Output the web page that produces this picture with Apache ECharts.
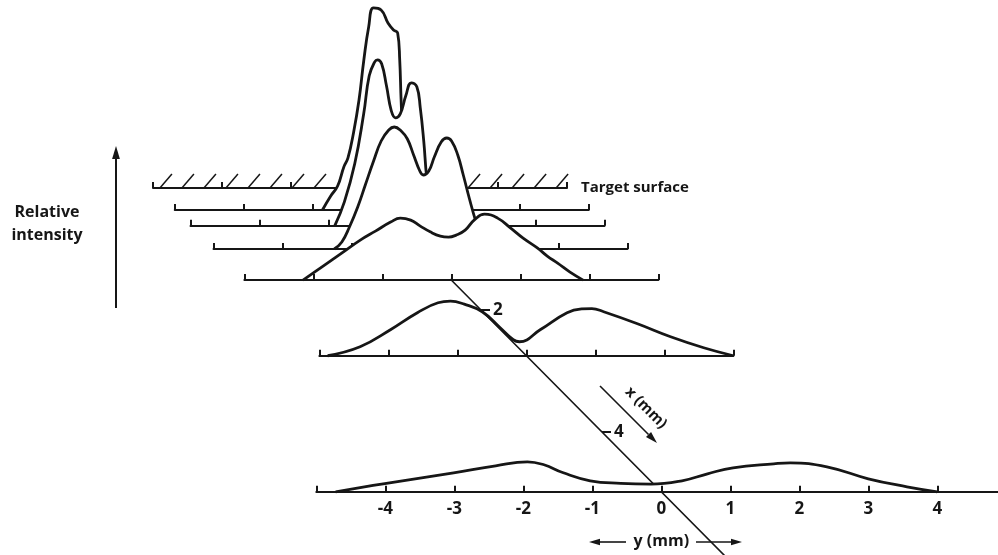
<!DOCTYPE html>
<html>
<head>
<meta charset="utf-8">
<title>Relative intensity profiles</title>
<script src="https://cdn.jsdelivr.net/npm/echarts/dist/echarts.min.js"></script>
<style>
  html, body { margin: 0; padding: 0; background: #fff; }
  #chart { width: 998px; height: 555px; }
</style>
</head>
<body>
<div id="chart"></div>
<script>
// tick labels: y (mm) on the front axis, x (mm) on the oblique axis
var y_ticks = [-4, -3, -2, -1, 0, 1, 2, 3, 4];
var x_ticks = [2, 4];

// depth x (mm) of each profile under the target surface, back to front
var depth_list = [0.36, 0.62, 1.0, 1.51, 2.75, 4.98];
// lateral extent y (mm) of each baseline
var range_list = [[-3, 3], [-3, 3], [-3, 3], [-3, 3], [-3, 3], [-5, 5]];

// [y (mm), relative intensity]
var profile_1 = [[-0.86, 0], [-0.74, 7], [-0.64, 12], [-0.55, 21.5], [-0.49, 26], [-0.41, 38.5],
    [-0.33, 55], [-0.26, 75], [-0.19, 91.5], [-0.12, 101], [-0.01, 100], [0.09, 93.5],
    [0.17, 90], [0.23, 88.5], [0.26, 75], [0.28, 55], [0.32, 25], [0.38, 0]];
var profile_2 = [[-0.91, 0], [-0.77, 12], [-0.62, 31], [-0.49, 56], [-0.41, 75], [-0.33, 82],
    [-0.29, 83], [-0.23, 81], [-0.16, 70], [-0.09, 57.5], [-0.03, 54], [0.04, 56], [0.12, 65],
    [0.2, 71.5], [0.28, 69.5], [0.33, 59], [0.38, 42.5], [0.42, 25], [0.48, 7.5], [0.52, 0]];
var profile_3 = [[-1.25, 0], [-1.14, 3.5], [-1.03, 11], [-0.91, 21], [-0.8, 32], [-0.68, 44],
    [-0.57, 54], [-0.46, 59.5], [-0.38, 61], [-0.28, 59], [-0.19, 55], [-0.1, 47], [-0.01, 39],
    [0.04, 37], [0.12, 39], [0.2, 46], [0.3, 53.5], [0.38, 55.5], [0.45, 54], [0.54, 47],
    [0.62, 37], [0.71, 25], [0.8, 14], [0.88, 6], [0.97, 0]];
var profile_4 = [[-2.15, 0], [-1.9, 6], [-1.61, 13], [-1.32, 20], [-1.1, 24.5], [-0.88, 29],
    [-0.74, 31], [-0.59, 30], [-0.45, 27], [-0.3, 24], [-0.16, 22], [-0.04, 21.5], [0.07, 22.5],
    [0.2, 25], [0.33, 30], [0.48, 33], [0.67, 31], [0.86, 26], [1.04, 21], [1.25, 16],
    [1.39, 12], [1.54, 8.5], [1.72, 4], [1.91, 0]];
var profile_5 = [[-2.88, 0], [-2.41, 4.5], [-1.97, 13], [-1.58, 21.5], [-1.28, 26.5], [-1.1, 27.3],
    [-0.9, 25.8], [-0.64, 22], [-0.38, 14], [-0.19, 8], [-0.1, 7], [0.2, 13], [0.59, 21.5],
    [0.8, 23.4], [0.95, 23.6], [1.12, 22], [1.61, 16], [2.09, 9.5], [2.57, 4], [3.0, 0]];
var profile_6 = [[-4.72, 0], [-4.03, 4], [-3.01, 9.5], [-2.4, 13], [-1.94, 15], [-1.7, 13.5],
    [-1.42, 9.5], [-1.03, 5.5], [-0.59, 4.2], [-0.15, 3.8], [0.3, 5.5], [0.67, 9], [1.04, 12],
    [1.63, 14], [1.87, 14.5], [2.4, 12.5], [3.0, 6.5], [3.56, 2.5], [4.0, 0]];
var profile_list = [profile_1, profile_2, profile_3, profile_4, profile_5, profile_6];

// oblique projection: y runs across, x runs down to the right
var H = 555;
var ORG_X = 360, ORG_Y = 188;        // target surface origin
var MM_PX = 69;                      // px per mm of y
var DEPTH_DX = 60.5, DEPTH_DY = 61;  // px per mm of x
var INT_PX = 2, INT_MAX = 102;       // px per intensity unit
var DIAG_PX = Math.sqrt(DEPTH_DX * DEPTH_DX + DEPTH_DY * DEPTH_DY);
var INK = '#161616';
var FONT = '"Open Sans", "DejaVu Sans", sans-serif';

var grids = [], x_axes = [], y_axes = [], series = [];

// one grid per plane, its x axis is the baseline
function add_plane(depth, range, int_max, z, show_label) {
    var base = ORG_Y + depth * DEPTH_DY;
    var zero = ORG_X + depth * DEPTH_DX;
    var idx = grids.length;
    grids.push({
        left: zero + range[0] * MM_PX, width: (range[1] - range[0]) * MM_PX,
        bottom: H - base, height: int_max * INT_PX,
        containLabel: false, outerBoundsMode: 'none'
    });
    x_axes.push({
        type: 'value', gridIndex: idx, min: range[0], max: range[1], interval: 1, z: z,
        axisLine: {lineStyle: {color: INK, width: 2}},
        axisTick: {inside: true, length: 6, lineStyle: {color: INK, width: 2}},
        axisLabel: {
            show: show_label, margin: 9, color: INK, fontSize: 17, fontWeight: 'bold', fontFamily: FONT,
            formatter: function (v) { return y_ticks.indexOf(v) >= 0 ? String(v) : ''; }
        },
        splitLine: {show: false}
    });
    y_axes.push({type: 'value', gridIndex: idx, min: 0, max: int_max, show: false});
    return idx;
}

// target surface with its hatching
var t_idx = add_plane(0, [-3, 3], 20, 11, false);
x_axes[t_idx].name = 'Target surface';
x_axes[t_idx].nameLocation = 'end';
x_axes[t_idx].nameGap = 14;
x_axes[t_idx].nameTextStyle = {color: INK, fontSize: 15, fontWeight: 'bold', fontFamily: FONT,
    align: 'left', verticalAlign: 'middle'};
var hatch_pos = [];
for (var k = 0; k < 19; k++) {
    hatch_pos.push([-2.9 + k * 0.319, 0]);
}
series.push({
    type: 'custom', xAxisIndex: t_idx, yAxisIndex: t_idx, z: 11, silent: true, data: hatch_pos,
    renderItem: function (params, api) {
        var p = api.coord([api.value(0), 0]);
        return {type: 'line', shape: {x1: p[0], y1: p[1], x2: p[0] + 12, y2: p[1] - 14},
            style: {stroke: INK, lineWidth: 1.5}};
    }
});

// profiles, each one hides what lies behind it
for (var i = 0; i < profile_list.length; i++) {
    var idx = add_plane(depth_list[i], range_list[i], INT_MAX, 13 + 2 * i, i == profile_list.length - 1);
    series.push({
        type: 'line', xAxisIndex: idx, yAxisIndex: idx, z: 12 + 2 * i,
        data: profile_list[i], smooth: 0.45,
        showSymbol: false, symbol: 'none', clip: false, silent: true,
        lineStyle: {color: INK, width: 2.8, join: 'round'},
        areaStyle: {color: '#ffffff', opacity: 1}
    });
}
x_axes[x_axes.length - 1].name = 'y (mm)';
x_axes[x_axes.length - 1].nameLocation = 'middle';
x_axes[x_axes.length - 1].nameGap = 42;
x_axes[x_axes.length - 1].nameTextStyle = {color: INK, fontSize: 16, fontWeight: 'bold', fontFamily: FONT};

function arrow_shapes(x1, y1, x2, y2, head, width) {
    var a = Math.atan2(y2 - y1, x2 - x1);
    var bx = x2 - head * Math.cos(a), by = y2 - head * Math.sin(a);
    var w = head * 0.3;
    return [
        {type: 'line', shape: {x1: x1, y1: y1, x2: bx, y2: by}, style: {stroke: INK, lineWidth: width}},
        {type: 'polygon', shape: {points: [[x2, y2], [bx - w * Math.sin(a), by + w * Math.cos(a)],
            [bx + w * Math.sin(a), by - w * Math.cos(a)]]}, style: {fill: INK}}
    ];
}

var graphics = [];
graphics = graphics.concat(arrow_shapes(116, 308, 116, 146, 13, 2));
graphics = graphics.concat(arrow_shapes(600, 386, 657, 443, 12, 1.6));
graphics = graphics.concat(arrow_shapes(626, 542, 589, 542, 11, 1.6));
graphics = graphics.concat(arrow_shapes(696, 542, 742, 542, 11, 1.6));
graphics.push({type: 'text', x: 47, y: 224, style: {text: 'Relative\nintensity', fill: INK,
    fontSize: 16, fontWeight: 'bold', fontFamily: FONT, lineHeight: 23, align: 'center', verticalAlign: 'middle'}});
graphics.push({type: 'text', x: 646, y: 408, rotation: -Math.PI / 4, style: {text: 'x (mm)', fill: INK,
    fontSize: 15, fontWeight: 'bold', fontFamily: FONT, align: 'center', verticalAlign: 'middle'}});

var mychart = echarts.init(document.getElementById('chart'));
var option = {
    animation: false,
    backgroundColor: '#ffffff',
    textStyle: {fontFamily: FONT},
    grid: grids,
    xAxis: x_axes,
    yAxis: y_axes,
    // oblique x (mm) axis
    polar: {center: [ORG_X, ORG_Y], radius: [1.5 * DIAG_PX, 6.5 * DIAG_PX]},
    angleAxis: {show: false, min: 0, max: 360,
        startAngle: -Math.atan2(DEPTH_DY, DEPTH_DX) * 180 / Math.PI},
    radiusAxis: {
        type: 'value', min: 1.5, max: 6.5, interval: 0.5, z: 21.5,
        axisLine: {lineStyle: {color: INK, width: 1.6}},
        axisTick: {show: false},
        splitLine: {show: false},
        splitArea: {show: false},
        axisLabel: {
            margin: 0, align: 'left', verticalAlign: 'middle',
            formatter: function (v) { return x_ticks.indexOf(v) >= 0 ? '{d|}{n|' + v + '}' : ''; },
            rich: {
                d: {width: 9, height: 2, backgroundColor: INK},
                n: {fontSize: 17, fontWeight: 'bold', fontFamily: FONT, color: INK, padding: [0, 0, 0, 3]}
            }
        }
    },
    graphic: graphics,
    series: series
};
mychart.setOption(option);
</script>
</body>
</html>
